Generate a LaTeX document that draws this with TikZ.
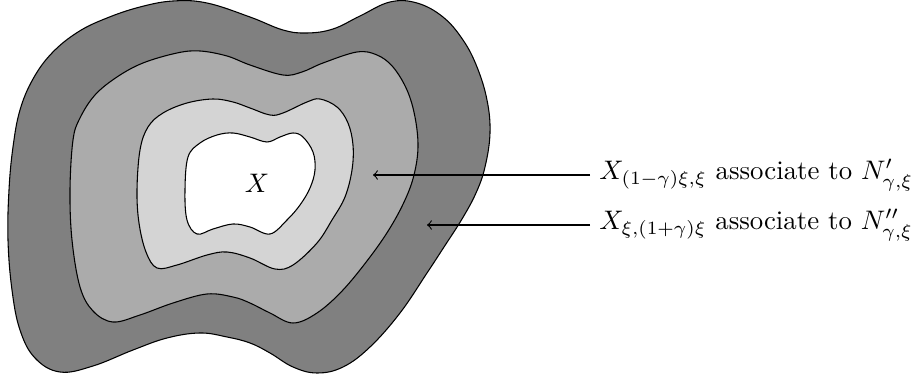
\documentclass[tikz,border=0pt]{standalone}
\usepackage{amsmath}
\begin{document}
\begin{tikzpicture}[x=0.373pt,y=-0.373pt,
  region/.style={draw=black,line width=0.4pt},
  lab/.style={inner sep=3.33pt,anchor=west},
  arr/.style={->,line width=0.4pt}]
\useasboundingbox (0,0) rectangle (913,381);
\path[region,fill=black!50] plot[smooth cycle,tension=0.65] coordinates {
(8,240) (9,190) (13,147) (20,110) (33,79) (52,53) (78,32) (107,18) (140,7) (173,1) (207,3) (250,17) (283,30) (307,33) (333,29) (360,16) (390,2) (417,3) (443,17) (463,40) (477,67) (487,100) (490,133) (485,167) (476,193) (462,219) (444,247) (427,273) (400,313) (370,347) (343,367) (317,373) (293,367) (270,353) (250,343) (227,337) (200,333) (167,338) (133,350) (93,366) (60,372) (35,358) (20,330) (12,290)};
\path[region,fill=black!33] plot[smooth cycle,tension=0.6] coordinates {
(70,190) (73,140) (80,118) (95,95) (117,77) (143,63) (177,53) (200,51) (227,56) (250,65) (283,75) (302,72) (323,63) (357,52) (377,55) (393,67) (407,90) (415,117) (418,147) (414,175) (405,200) (390,228) (370,257) (343,290) (317,313) (293,323) (270,313) (250,303) (233,297) (207,294) (173,303) (140,315) (113,322) (93,311) (80,287) (72,240)};
\path[region,fill=black!17] plot[smooth cycle,tension=0.6] coordinates {
(137,190) (140,150) (148,127) (163,113) (187,103) (213,99) (233,102) (250,108) (270,115) (283,113) (307,102) (320,99) (337,107) (348,123) (353,145) (352,170) (345,197) (332,220) (317,243) (293,265) (275,269) (250,258) (227,252) (207,255) (177,265) (157,268) (146,252) (139,223)};
\path[region,fill=white] plot[smooth cycle,tension=0.6] coordinates {
(185,190) (188,157) (200,143) (217,135) (233,133) (250,137) (267,142) (280,137) (293,133) (303,137) (313,152) (315,170) (310,188) (300,205) (287,220) (270,234) (250,227) (233,224) (213,229) (197,234) (187,220)};
\node (x) at (257,183) {$X$};
\node[lab] (t1) at (590,175) {$X_{(1-\gamma)\xi,\xi}$ associate to $N'_{\gamma,\xi}$};
\node[lab] (t2) at (590,225) {$X_{\xi,(1+\gamma)\xi}$ associate to $N''_{\gamma,\xi}$};
\coordinate (a1) at (373,175);
\coordinate (a2) at (427,225);
\draw[arr] (t1.west) -- (t1.west -| a1);
\draw[arr] (t2.west) -- (t2.west -| a2);
\end{tikzpicture}
\end{document}
